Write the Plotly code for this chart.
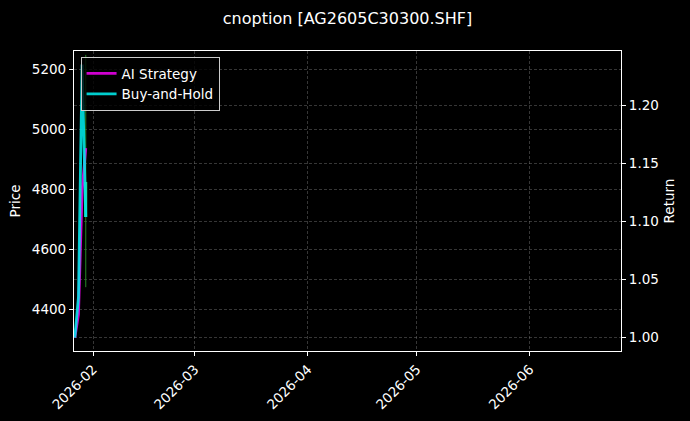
import plotly.graph_objects as go

# ---- data ----
candle_dates = ["2026-01-30"]
open_px = [4707]
high_px = [5248]
low_px = [4473]
close_px = [4824]

dates = ["2026-01-27", "2026-01-28", "2026-01-29", "2026-01-30"]
ai_strategy = [1.00, 1.02, 1.127, 1.1635]
buy_and_hold = [1.00, 1.035, 1.2355, 1.104]

title_text = "cnoption [AG2605C30300.SHF]"
price_ticks = [4400, 4600, 4800, 5000, 5200]
return_ticks = [1.00, 1.05, 1.10, 1.15, 1.20]
x_range = ["2026-01-26 18:30", "2026-06-26 02:00"]
price_range = [4260, 5261]
return_range = [0.9885, 1.2472]

FONT = "DejaVu Sans"
GRID = "rgba(128,128,128,0.42)"

fig = go.Figure()

# candle wicks
wx, wy = [], []
for d, lo, hi in zip(candle_dates, low_px, high_px):
    wx += [d, d, None]
    wy += [lo, hi, None]
fig.add_trace(go.Scatter(x=wx, y=wy, mode="lines",
                         line=dict(color="rgba(40,150,40,0.9)", width=1),
                         showlegend=False, hoverinfo="skip", yaxis="y"))

# candle bodies
body_base = [min(o, c) for o, c in zip(open_px, close_px)]
body_h = [abs(c - o) for o, c in zip(open_px, close_px)]
body_col = ["rgb(46,230,150)" if c >= o else "rgb(230,60,60)" for o, c in zip(open_px, close_px)]
fig.add_trace(go.Bar(x=candle_dates, y=body_h, base=body_base, width=0.8 * 86400000,
                     marker=dict(color=body_col, line=dict(width=0)),
                     showlegend=False, hoverinfo="skip", yaxis="y"))

# return lines (strategy below, buy-and-hold on top)
fig.add_trace(go.Scatter(x=dates, y=ai_strategy, mode="lines", name="AI Strategy",
                         line=dict(color="rgba(230,0,230,0.9)", width=2.8), yaxis="y2"))
fig.add_trace(go.Scatter(x=dates, y=buy_and_hold, mode="lines", name="Buy-and-Hold",
                         line=dict(color="rgba(0,235,235,0.88)", width=2.8), yaxis="y2"))

axis_common = dict(showline=True, linecolor="white", linewidth=1.2,
                   ticks="outside", ticklen=4, tickcolor="white", tickwidth=1,
                   tickfont=dict(family=FONT, size=13.5, color="white"),
                   zeroline=False, automargin=False)
grid_common = dict(showgrid=True, gridcolor=GRID, griddash="3px,2px", gridwidth=0.7)

fig.update_layout(
    width=690, height=421,
    paper_bgcolor="black", plot_bgcolor="black",
    margin=dict(l=74, r=69, t=51, b=70),
    font=dict(family=FONT, color="white"),
    title=dict(text=title_text, x=0.5, xref="paper", xanchor="center",
               y=1 - 18 / 421, yref="container", yanchor="middle",
               font=dict(family=FONT, size=16, color="white")),
    barmode="overlay",
    showlegend=True,
    legend=dict(x=0.012, y=0.98, xanchor="left", yanchor="top",
                bgcolor="rgba(0,0,0,0.8)", bordercolor="#cccccc", borderwidth=1,
                font=dict(family=FONT, size=13.5, color="white"),
                traceorder="normal", tracegroupgap=2),
    xaxis=dict(type="date", range=x_range, tick0="2026-02-01", dtick="M1",
               tickformat="%Y-%m", tickangle=-45, mirror=True,
               **grid_common, **axis_common),
    yaxis=dict(range=price_range, tickvals=price_ticks, mirror=True,
               title=dict(text="Price", standoff=8, font=dict(family=FONT, size=13.5, color="white")),
               **grid_common, **axis_common),
    yaxis2=dict(range=return_range, tickvals=return_ticks, tickformat=".2f",
                overlaying="y", side="right",
                title=dict(text="Return", standoff=6, font=dict(family=FONT, size=13.5, color="white")),
                **grid_common, **axis_common),
)

fig.write_html(
    "out.html",
    config={"displayModeBar": False},
    post_script="document.body.style.margin='0';document.body.style.background='black';",
)
